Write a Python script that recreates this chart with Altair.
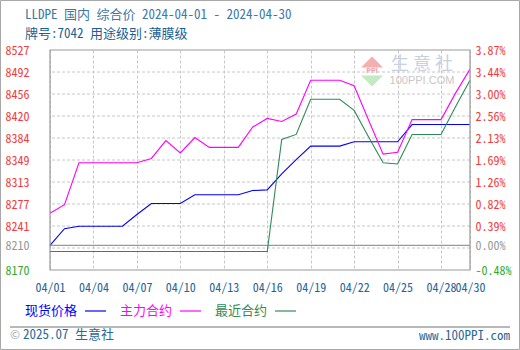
import json
import altair as alt
import pandas as pd

# ---------------- data ----------------
dates = [f"2024-04-{d:02d}" for d in range(1, 31)]
spot = [8210, 8237, 8241, 8241, 8241, 8241, 8260, 8278, 8278, 8278,
        8292, 8292, 8292, 8292, 8299, 8300, 8326, 8349, 8371, 8371,
        8371, 8378, 8378, 8378, 8378, 8406, 8406, 8406, 8406, 8406]
main = [8262, 8276, 8344, 8344, 8344, 8344, 8344, 8351, 8380, 8360,
        8385, 8369, 8369, 8369, 8402, 8416, 8411, 8423, 8478, 8478,
        8478, 8469, 8413, 8358, 8361, 8414, 8414, 8414, 8457, 8496]
near = [8200, 8200, 8200, 8200, 8200, 8200, 8200, 8200, 8200, 8200,
        8200, 8200, 8200, 8200, 8200, 8200, 8382, 8390, 8447, 8447,
        8447, 8429, 8386, 8344, 8342, 8390, 8390, 8390, 8435, 8478]
series_names = ["现货价格", "主力合约", "最近合约"]
series_colors = ["#0000ff", "#ff00ff", "#2e8b57"]

y_levels = [8170, 8210, 8241.4, 8277.1, 8312.8, 8348.5, 8384.2, 8419.9, 8455.6, 8491.3, 8527]
left_labels = ["8170", "8210", "8241", "8277", "8313", "8349", "8384", "8420", "8456", "8492", "8527"]
right_labels = ["-0.48%", "0.00%", "0.39%", "0.82%", "1.26%", "1.69%", "2.13%", "2.56%", "3.00%", "3.44%", "3.87%"]
grid_levels = [8205.7, 8241.4, 8277.1, 8312.8, 8348.5, 8384.2, 8419.9, 8455.6, 8491.3]
base_price = 8210
x_ticks = ["04/01", "04/04", "04/07", "04/10", "04/13", "04/16", "04/19", "04/22", "04/25", "04/28", "04/30"]

title_text = "LLDPE 国内 综合价 2024-04-01 - 2024-04-30"
subtitle_text = "牌号:7042 用途级别:薄膜级"
footer_left = "2025.07 生意社"
footer_right = "www.100PPI.com"

# ---------------- styles ----------------
FONT = "'Noto Sans Mono CJK SC', 'Liberation Mono', 'Noto Sans CJK SC', monospace"
RED = "#f03c3c"
GREEN = "#33aa33"
GRAY = "#999999"
BLUE_TXT = "#246496"
W, H = 420, 220

df = pd.DataFrame({"date": dates, series_names[0]: spot,
                   series_names[1]: main, series_names[2]: near})
long = df.melt("date", var_name="series", value_name="value")

yscale = alt.Scale(domain=[y_levels[0], y_levels[-1]], nice=False, zero=False)
xscale = alt.Scale(type="utc", nice=False,
                   domain=[alt.DateTime(year=2024, month=4, date=1, utc=True),
                           alt.DateTime(year=2024, month=4, date=30, utc=True)])

tick_vals = [alt.DateTime(year=2024, month=int(s[:2]), date=int(s[3:]), utc=True) for s in x_ticks]


def lab_expr(labels):
    return "%s[indexof(%s, datum.value)]" % (json.dumps(labels, ensure_ascii=False), json.dumps(y_levels))


label_color = {"condition": [{"test": "datum.value == %s" % y_levels[0], "value": GREEN},
                             {"test": "datum.value == %s" % base_price, "value": GRAY}],
               "value": RED}

left_axis = alt.Axis(values=y_levels, labelExpr=lab_expr(left_labels), grid=False, ticks=False,
                     domain=False, labelPadding=45, labelAlign="left", labelBaseline="middle",
                     labelFont=FONT, labelFontSize=12, labelColor=label_color, title=None,
                     labelOverlap=False, labelFlush=False, orient="left")
right_axis = alt.Axis(values=y_levels, labelExpr=lab_expr(right_labels), grid=False, ticks=False,
                      domain=False, labelPadding=5, labelAlign="left", labelBaseline="middle",
                      labelFont=FONT, labelFontSize=12, labelColor=label_color, title=None,
                      labelOverlap=False, labelFlush=False, orient="right")
x_axis = alt.Axis(values=tick_vals, labelExpr="utcFormat(datum.value, '%m/%d')", grid=True,
                  gridDash=[3, 2], gridColor="#c8c8c8", ticks=False, domain=False, labelPadding=12,
                  labelFont=FONT, labelFontSize=12, labelColor=BLUE_TXT, labelFlush=False,
                  labelOverlap=False, title=None)

one = pd.DataFrame({"a": [0]})

grid = alt.Chart(pd.DataFrame({"g": grid_levels})).mark_rule(
    color="#c8c8c8", strokeDash=[3, 2], strokeWidth=1).encode(
    y=alt.Y("g:Q", scale=yscale, axis=None))

baseline = alt.Chart(pd.DataFrame({"v": [base_price]})).mark_rule(
    color=GRAY, strokeWidth=1.2).encode(
    y=alt.Y("v:Q", scale=yscale, axis=right_axis))

lines = alt.Chart(long).mark_line(strokeWidth=1.1, interpolate="linear").encode(
    x=alt.X("date:T", scale=xscale, axis=x_axis),
    y=alt.Y("value:Q", scale=yscale, axis=left_axis),
    color=alt.Color("series:N", scale=alt.Scale(domain=series_names, range=series_colors), legend=None),
    detail="series:N")

border = alt.Chart(one).mark_rect(fillOpacity=0, stroke=GRAY, strokeWidth=1.2).encode(
    x=alt.value(0), x2=alt.value(W), y=alt.value(0), y2=alt.value(H))

outer = alt.Chart(one).mark_rect(fillOpacity=0, stroke="#a8a8a8", strokeWidth=1).encode(
    x=alt.value(-49.5), x2=alt.value(469.5), y=alt.value(-49.5), y2=alt.value(299.5))

texts = [outer]
texts.append(alt.Chart(one).mark_text(align="left", baseline="middle", font=FONT, fontSize=13,
                                      color="#3a78a8").encode(
    x=alt.value(-25), y=alt.value(-35), text=alt.value(title_text)))
texts.append(alt.Chart(one).mark_text(align="left", baseline="middle", font=FONT, fontSize=13,
                                      color="#1a5f96").encode(
    x=alt.value(-25), y=alt.value(-16), text=alt.value(subtitle_text)))

# legend (text then a short line)
for i, (nm, col) in enumerate(zip(series_names, series_colors)):
    x0 = -25 + i * 95
    texts.append(alt.Chart(one).mark_text(align="left", baseline="middle", font=FONT, fontSize=13,
                                          color=col).encode(
        x=alt.value(x0), y=alt.value(261), text=alt.value(nm)))
    texts.append(alt.Chart(one).mark_rule(color=col, strokeWidth=1.2).encode(
        x=alt.value(x0 + 60), x2=alt.value(x0 + 81), y=alt.value(261)))

# footer
texts.append(alt.Chart(one).mark_rule(color="#a0a0a0", strokeWidth=1.5).encode(
    x=alt.value(-40), x2=alt.value(460), y=alt.value(277)))
texts.append(alt.Chart(one).mark_text(align="left", baseline="middle", font=FONT, fontSize=12,
                                      color="#9aa8b8").encode(
    x=alt.value(-40), y=alt.value(285), text=alt.value("©")))
texts.append(alt.Chart(one).mark_text(align="left", baseline="middle", font=FONT, fontSize=13,
                                      color="#2a6a9a").encode(
    x=alt.value(-27), y=alt.value(285), text=alt.value(footer_left)))
texts.append(alt.Chart(one).mark_text(align="right", baseline="middle", font=FONT, fontSize=13,
                                      color="#2a6a9a").encode(
    x=alt.value(460), y=alt.value(286), text=alt.value(footer_right)))

# watermark
texts.append(alt.Chart(one).mark_point(shape="M-1,0.5L1,0.5L0,-0.5Z", filled=True, size=484,
                                       color="#f4b0b0", opacity=1).encode(
    x=alt.value(322), y=alt.value(12)))
texts.append(alt.Chart(one).mark_point(shape="M-1,-0.5L1,-0.5L0,0.5Z", filled=True, size=484,
                                       color="#c4eac4", opacity=1).encode(
    x=alt.value(322), y=alt.value(31)))
texts.append(alt.Chart(one).mark_text(align="center", baseline="middle", font="Liberation Sans",
                                      fontSize=7, fontWeight="bold", color="#e8a0a0").encode(
    x=alt.value(322), y=alt.value(21), text=alt.value("PPI")))
texts.append(alt.Chart(one).mark_text(align="center", baseline="middle", font="Noto Sans CJK SC",
                                      fontSize=18, color="#c8d0e2").encode(
    x=alt.value(372), y=alt.value(15), text=alt.value("生 意 社")))
texts.append(alt.Chart(one).mark_text(align="center", baseline="middle", font="Liberation Sans",
                                      fontSize=11, color="#c8c8c8").encode(
    x=alt.value(372), y=alt.value(31), text=alt.value("100PPI.COM")))

chart = alt.layer(grid, baseline, lines, border, *texts).resolve_axis(y="independent").properties(
    width=W, height=H, autosize="none",
    padding={"left": 50, "top": 50, "right": 50, "bottom": 80},
    background="white",
).configure_view(stroke=None)

chart.save("out.html", embed_options={"renderer": "svg", "actions": False})
